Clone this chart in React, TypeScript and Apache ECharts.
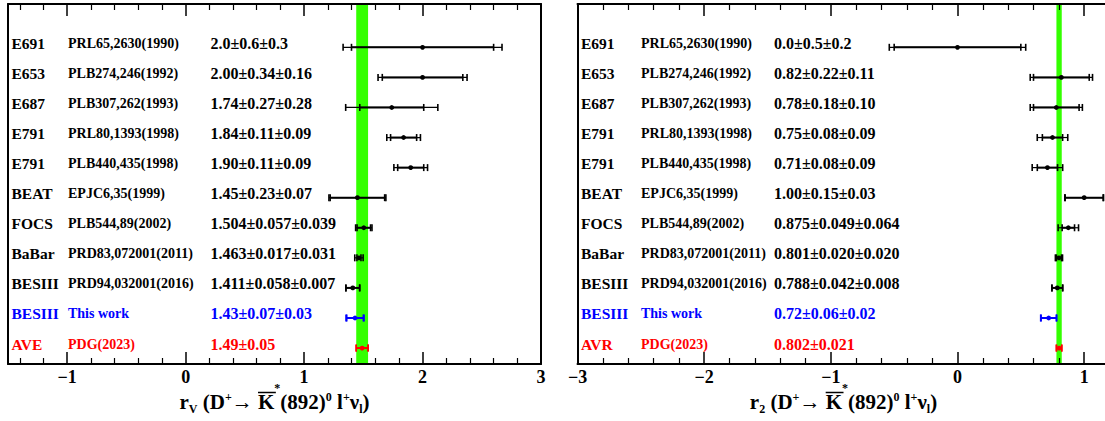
import React, { useEffect, useRef } from 'react';
import * as echarts from 'echarts';

const FONT = '"Liberation Serif", "Times New Roman", serif';

// ---------- data ----------
const experimentsRV = ['E691', 'E653', 'E687', 'E791', 'E791', 'BEAT', 'FOCS', 'BaBar', 'BESIII', 'BESIII', 'AVE'];
const experimentsR2 = ['E691', 'E653', 'E687', 'E791', 'E791', 'BEAT', 'FOCS', 'BaBar', 'BESIII', 'BESIII', 'AVR'];
const references = [
  'PRL65,2630(1990)', 'PLB274,246(1992)', 'PLB307,262(1993)', 'PRL80,1393(1998)', 'PLB440,435(1998)',
  'EPJC6,35(1999)', 'PLB544,89(2002)', 'PRD83,072001(2011)', 'PRD94,032001(2016)', 'This work', 'PDG(2023)',
];

const rvValues = [2.0, 2.0, 1.74, 1.84, 1.9, 1.45, 1.504, 1.463, 1.411, 1.43, 1.49];
const rvStat = [0.6, 0.34, 0.27, 0.11, 0.11, 0.23, 0.057, 0.017, 0.058, 0.07, 0.05];
const rvSyst = [0.3, 0.16, 0.28, 0.09, 0.09, 0.07, 0.039, 0.031, 0.007, 0.03, 0];
const rvLabels = [
  '2.0±0.6±0.3', '2.00±0.34±0.16', '1.74±0.27±0.28', '1.84±0.11±0.09', '1.90±0.11±0.09',
  '1.45±0.23±0.07', '1.504±0.057±0.039', '1.463±0.017±0.031', '1.411±0.058±0.007', '1.43±0.07±0.03', '1.49±0.05',
];

const r2Values = [0.0, 0.82, 0.78, 0.75, 0.71, 1.0, 0.875, 0.801, 0.788, 0.72, 0.802];
const r2Stat = [0.5, 0.22, 0.18, 0.08, 0.08, 0.15, 0.049, 0.02, 0.042, 0.06, 0.021];
const r2Syst = [0.2, 0.11, 0.1, 0.09, 0.09, 0.03, 0.064, 0.02, 0.008, 0.02, 0];
const r2Labels = [
  '0.0±0.5±0.2', '0.82±0.22±0.11', '0.78±0.18±0.10', '0.75±0.08±0.09', '0.71±0.08±0.09',
  '1.00±0.15±0.03', '0.875±0.049±0.064', '0.801±0.020±0.020', '0.788±0.042±0.008', '0.72±0.06±0.02', '0.802±0.021',
];

const rowColors = ['#000', '#000', '#000', '#000', '#000', '#000', '#000', '#000', '#000', '#0000ff', '#ff0000'];

const rvBand = [1.49, 0.05];
const r2Band = [0.802, 0.021];

const rvMajorTicks = [-1, 0, 1, 2, 3];
const rvMinorTicks = [-1.4, -1.2, -0.8, -0.6, -0.4, -0.2, 0.2, 0.4, 0.6, 0.8, 1.2, 1.4, 1.6, 1.8, 2.2, 2.4, 2.6, 2.8];
const r2MajorTicks = [-3, -2, -1, 0, 1];
const r2MinorTicks = [-2.8, -2.6, -2.4, -2.2, -1.8, -1.6, -1.4, -1.2, -0.8, -0.6, -0.4, -0.2, 0.2, 0.4, 0.6, 0.8];

// ---------- helpers ----------
function measure(text: string, size: number): number {
  const ctx = document.createElement('canvas').getContext('2d') as CanvasRenderingContext2D;
  ctx.font = `bold ${size}px ${FONT}`;
  return ctx.measureText(text).width;
}

type Seg = { t: string; kind: 'main' | 'sub' | 'sup' | 'star'; over?: boolean };

function titleGraphics(segs: Seg[], cx: number): any[] {
  const M = 21;
  const S = 12;
  const yMap: Record<string, number> = { main: 401.5, sub: 408.5, sup: 396.5, star: 388 };
  const widths = segs.map((s) => measure(s.t, s.kind === 'main' ? M : S));
  const total = widths.reduce((a, b) => a + b, 0);
  let x = cx - total / 2;
  const els: any[] = [];
  segs.forEach((s, i) => {
    const size = s.kind === 'main' ? M : S;
    els.push({
      type: 'text',
      silent: true,
      style: {
        text: s.t, x, y: yMap[s.kind], font: `bold ${size}px ${FONT}`, fill: '#000',
        textAlign: 'left', textVerticalAlign: 'middle', align: 'left', verticalAlign: 'middle',
      },
    });
    if (s.over) {
      els.push({
        type: 'line', silent: true,
        shape: { x1: x, y1: 392.5, x2: x + widths[i] + 1.5, y2: 392.5 },
        style: { stroke: '#000', lineWidth: 1.5 },
      });
    }
    x += widths[i];
  });
  return els;
}

function titleSegs(first: string): Seg[] {
  return [
    { t: 'r', kind: 'main' },
    { t: first, kind: 'sub' },
    { t: ' (D', kind: 'main' },
    { t: '+', kind: 'sup' },
    { t: '→ ', kind: 'main' },
    { t: 'K', kind: 'main', over: true },
    { t: '*', kind: 'star' },
    { t: '(892)', kind: 'main' },
    { t: '0', kind: 'sup' },
    { t: ' l', kind: 'main' },
    { t: '+', kind: 'sup' },
    { t: 'ν', kind: 'main' },
    { t: 'l', kind: 'sub' },
    { t: ')', kind: 'main' },
  ];
}

const minusFmt = (v: number) => (v < 0 ? '−' + Math.abs(v) : String(v));

function txt(text: string, x: number, y: number, size: number, fill: string) {
  return {
    type: 'text',
    style: {
      text, x, y, font: `bold ${size}px ${FONT}`, fill,
      textAlign: 'left', textVerticalAlign: 'middle', align: 'left', verticalAlign: 'middle',
    },
  };
}

function makeRowRenderer(names: string[], labels: string[], offsets: number[]) {
  return (params: any, api: any) => {
    const i = params.dataIndex;
    const v = api.value(0);
    const row = api.value(1);
    const stat = api.value(2);
    const syst = api.value(3);
    const tot = Math.sqrt(stat * stat + syst * syst);
    const c = api.coord([v, row]);
    const y = c[1];
    const ls = api.coord([v - stat, row])[0];
    const hs = api.coord([v + stat, row])[0];
    const lt = api.coord([v - tot, row])[0];
    const ht = api.coord([v + tot, row])[0];
    const col = rowColors[i];
    const cs = params.coordSys;
    const cap = (x: number) => ({
      type: 'line', shape: { x1: x, y1: y - 3.5, x2: x, y2: y + 3.5 }, style: { stroke: col, lineWidth: 1.6 },
    });
    const children: any[] = [
      { type: 'line', shape: { x1: lt, y1: y, x2: ht, y2: y }, style: { stroke: col, lineWidth: 1.2 } },
      { type: 'line', shape: { x1: ls, y1: y, x2: hs, y2: y }, style: { stroke: col, lineWidth: 2 } },
      cap(lt), cap(ht), cap(ls), cap(hs),
      { type: 'circle', shape: { cx: c[0], cy: y, r: 2.4 }, style: { fill: col } },
      txt(names[i], cs.x + offsets[0], y - 4, 15.5, col),
      txt(references[i], cs.x + offsets[1], y - 4, 14, col),
      txt(labels[i], cs.x + offsets[2], y - 4, 16, col),
    ];
    return { type: 'group', children };
  };
}

const bandRenderer = (params: any, api: any) => {
  const cs = params.coordSys;
  const x1 = api.coord([api.value(0), 0])[0];
  const x2 = api.coord([api.value(1), 0])[0];
  return {
    type: 'rect',
    shape: { x: x1, y: cs.y, width: x2 - x1, height: cs.height },
    style: { fill: '#33ff00' },
  };
};

const Y_MIN = -1.44;
const Y_MAX = 10.53;

function xAxes(gridIndex: number, min: number, max: number, majors: number[], minors: number[]) {
  const base = { type: 'value', gridIndex, min, max, splitLine: { show: false }, z: 5 };
  const line = { show: true, onZero: false, lineStyle: { color: '#000', width: 2 } };
  return [
    {
      ...base, position: 'bottom', axisLine: line,
      axisTick: { show: true, inside: true, length: 12, customValues: majors, lineStyle: { color: '#000', width: 1.5 } },
      axisLabel: {
        show: true, customValues: majors, formatter: minusFmt, margin: 4,
        fontFamily: FONT, fontWeight: 'bold', fontSize: 18, color: '#000',
      },
    },
    {
      ...base, position: 'top', axisLine: line,
      axisTick: { show: true, inside: true, length: 12, customValues: majors, lineStyle: { color: '#000', width: 1.5 } },
      axisLabel: { show: false },
    },
    {
      ...base, gridIndex: gridIndex + 1, position: 'bottom', axisLine: { show: false, onZero: false },
      axisTick: { show: true, inside: true, length: 6, customValues: minors, lineStyle: { color: '#000', width: 1.2 } },
      axisLabel: { show: false },
    },
    {
      ...base, gridIndex: gridIndex + 1, position: 'top', axisLine: { show: false, onZero: false },
      axisTick: { show: true, inside: true, length: 6, customValues: minors, lineStyle: { color: '#000', width: 1.2 } },
      axisLabel: { show: false },
    },
  ];
}

function yAxes(gridIndex: number) {
  const base = {
    type: 'value', gridIndex, min: Y_MIN, max: Y_MAX, inverse: true, z: 5,
    splitLine: { show: false }, axisTick: { show: false }, axisLabel: { show: false },
  };
  const line = { show: true, onZero: false, lineStyle: { color: '#000', width: 2 } };
  return [
    { ...base, position: 'left', axisLine: line },
    { ...base, position: 'right', axisLine: line },
    { ...base, gridIndex: gridIndex + 1, show: false },
  ];
}

export default function App() {
  const ref = useRef<HTMLDivElement>(null);

  useEffect(() => {
    if (!ref.current) return;
    const chart = echarts.init(ref.current, undefined, { renderer: 'svg' });

    const leftGrid = { left: 8, top: 4, width: 533, height: 360, containLabel: false, outerBoundsMode: 'none' };
    const rightGrid = { left: 577.5, top: 4, width: 532, height: 360, containLabel: false, outerBoundsMode: 'none' };

    const option: any = {
      animation: false,
      backgroundColor: '#fff',
      textStyle: { fontFamily: FONT },
      grid: [leftGrid, { ...leftGrid }, rightGrid, { ...rightGrid }],
      xAxis: [
        ...xAxes(0, -1.5, 3, rvMajorTicks, rvMinorTicks),
        ...xAxes(2, -3, 1.2, r2MajorTicks, r2MinorTicks),
      ],
      yAxis: [...yAxes(0), ...yAxes(2)],
      series: [
        {
          type: 'custom', xAxisIndex: 0, yAxisIndex: 0, z: 1, silent: true,
          data: [[rvBand[0] - rvBand[1], rvBand[0] + rvBand[1]]],
          encode: { x: [0, 1] },
          renderItem: bandRenderer,
        },
        {
          type: 'custom', xAxisIndex: 0, yAxisIndex: 0, z: 3, silent: true,
          data: rvValues.map((v, i) => [v, i, rvStat[i], rvSyst[i]]),
          encode: { x: 0, y: 1 },
          renderItem: makeRowRenderer(experimentsRV, rvLabels, [3.5, 60, 202.5]),
        },
        {
          type: 'custom', xAxisIndex: 4, yAxisIndex: 3, z: 1, silent: true,
          data: [[r2Band[0] - r2Band[1], r2Band[0] + r2Band[1]]],
          encode: { x: [0, 1] },
          renderItem: bandRenderer,
        },
        {
          type: 'custom', xAxisIndex: 4, yAxisIndex: 3, z: 3, silent: true,
          data: r2Values.map((v, i) => [v, i, r2Stat[i], r2Syst[i]]),
          encode: { x: 0, y: 1 },
          renderItem: makeRowRenderer(experimentsR2, r2Labels, [3.5, 63.5, 196.5]),
        },
      ],
      graphic: [
        ...titleGraphics(titleSegs('V'), 8 + 533 / 2),
        ...titleGraphics(titleSegs('2'), 577.5 + 532 / 2),
      ],
    };

    chart.setOption(option);
    return () => chart.dispose();
  }, []);

  return (
    <div
      ref={ref}
      style={{ position: 'fixed', left: 0, top: 0, width: 1105, height: 421, background: '#fff' }}
    />
  );
}
